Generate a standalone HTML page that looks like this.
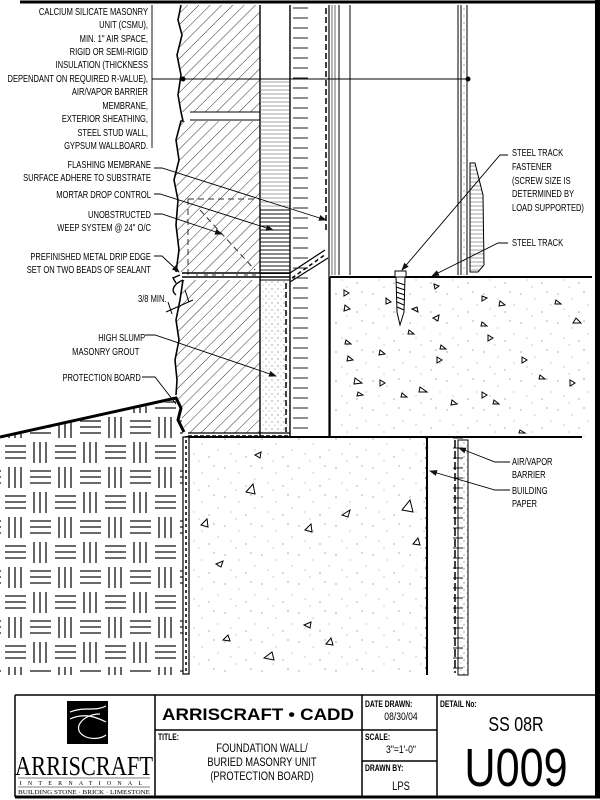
<!DOCTYPE html>
<html><head><meta charset="utf-8"><style>
html,body{margin:0;padding:0;background:#fff;}
svg{display:block;}
.t{font-family:"Liberation Sans",sans-serif;font-size:10.5px;fill:#000;}
</style></head><body>
<svg width="600" height="800" viewBox="0 0 600 800" xmlns="http://www.w3.org/2000/svg">
<defs>
<pattern id="diag" width="8" height="8" patternUnits="userSpaceOnUse" patternTransform="rotate(45)">
<line x1="0" y1="0" x2="0" y2="8" stroke="#333" stroke-width="1"/></pattern>
<pattern id="horiz" width="6" height="4" patternUnits="userSpaceOnUse">
<line x1="0" y1="2" x2="6" y2="2" stroke="#888" stroke-width="0.8"/></pattern>
<pattern id="horizd" width="6" height="4" patternUnits="userSpaceOnUse">
<line x1="0" y1="2" x2="6" y2="2" stroke="#111" stroke-width="1"/></pattern>
<pattern id="stip" width="37" height="29" patternUnits="userSpaceOnUse">
<g fill="#777"><circle cx="3" cy="4" r="0.6"/><circle cx="17" cy="9" r="0.5"/><circle cx="29" cy="2" r="0.6"/><circle cx="9" cy="19" r="0.5"/><circle cx="24" cy="22" r="0.6"/><circle cx="33" cy="15" r="0.5"/><circle cx="14" cy="26" r="0.5"/></g></pattern>
<pattern id="stip2" width="6" height="7" patternUnits="userSpaceOnUse">
<circle cx="2" cy="2" r="0.6" fill="#666"/><circle cx="5" cy="5" r="0.5" fill="#888"/></pattern>
<pattern id="weave" width="50" height="50" patternUnits="userSpaceOnUse" x="3" y="440">
<g stroke="#111" stroke-width="1.3">
<line x1="2" y1="6" x2="23" y2="6"/><line x1="2" y1="12" x2="23" y2="12"/><line x1="2" y1="18" x2="23" y2="18"/>
<line x1="31" y1="2" x2="31" y2="23"/><line x1="37" y1="2" x2="37" y2="23"/><line x1="43" y1="2" x2="43" y2="23"/>
<line x1="6" y1="27" x2="6" y2="48"/><line x1="12" y1="27" x2="12" y2="48"/><line x1="18" y1="27" x2="18" y2="48"/>
<line x1="27" y1="31" x2="48" y2="31"/><line x1="27" y1="37" x2="48" y2="37"/><line x1="27" y1="43" x2="48" y2="43"/>
</g></pattern>
<pattern id="ticks" width="40" height="10" patternUnits="userSpaceOnUse" y="3">
<line x1="13" y1="5" x2="28" y2="5" stroke="#222" stroke-width="1"/></pattern>
<marker id="ar" markerWidth="8" markerHeight="6" refX="7" refY="3" orient="auto" markerUnits="userSpaceOnUse">
<path d="M0,0 L8,3 L0,6 z" fill="#111"/></marker>
</defs>

<line x1="20" y1="2" x2="600" y2="2" stroke="#000" stroke-width="3"/>
<rect x="595" y="0" width="5" height="798" fill="#000"/>

<path d="M181,5 L178,20 L182,35 L177,55 L181,75 L178,95 L181,112 L260,112 L260,5 Z" fill="url(#diag)"/>
<path d="M181,121 L176,140 L179,160 L174,180 L178,200 L176,225 L179,250 L176,272 L260,272 L260,121 Z" fill="url(#diag)"/>
<path d="M181,5 L178,20 L182,35 L177,55 L181,75 L178,95 L181,112 L183,121 L181,121 L176,140 L179,160 L174,180 L178,200 L176,225 L179,250 L176,272" fill="none" stroke="#000" stroke-width="1.6"/>
<line x1="190" y1="112" x2="260" y2="112" stroke="#000" stroke-width="1"/>
<line x1="190" y1="120" x2="260" y2="120" stroke="#000" stroke-width="1"/>
<rect x="188" y="199" width="72" height="76" fill="none" stroke="#333" stroke-dasharray="6,4"/>
<line x1="200" y1="210" x2="255" y2="270" stroke="#333" stroke-dasharray="6,4"/>
<line x1="260" y1="5" x2="260" y2="437" stroke="#000" stroke-width="1.4"/>

<rect x="260" y="79" width="30" height="130" fill="url(#horiz)"/>
<rect x="260" y="210" width="30" height="64" fill="url(#horizd)"/>
<line x1="260" y1="210" x2="290" y2="210" stroke="#000"/>

<line x1="182" y1="273" x2="290" y2="273" stroke="#000" stroke-width="1.4"/>
<line x1="182" y1="277" x2="290" y2="277" stroke="#000" stroke-width="1.4"/>
<line x1="184" y1="275" x2="290" y2="275" stroke="#fff" stroke-width="1" stroke-dasharray="4,4"/>
<path d="M290,273 L325,250 M290,282 L328,258" stroke="#000" stroke-width="1.2"/>
<path d="M292,278 L326,254" stroke="#000" stroke-width="1.5" stroke-dasharray="4,3"/>
<path d="M180,275 L173,278 L176,283 M183,280 C174,284 170,290 176,295" fill="none" stroke="#000" stroke-width="1.4"/>

<path d="M183,280 L180,300 L176,320 L179,340 L175,360 L177,380 L176,395 L180,410 L185,433 L260,433 L260,280 Z" fill="url(#diag)"/>
<path d="M183,280 L180,300 L176,320 L179,340 L175,360 L177,380 L176,395" fill="none" stroke="#000" stroke-width="1.6"/>
<line x1="188" y1="433" x2="290" y2="433" stroke="#000" stroke-width="1.2"/>
<line x1="188" y1="436" x2="290" y2="436" stroke="#000" stroke-width="1.5" stroke-dasharray="4,2"/>

<rect x="261" y="280" width="28" height="152" fill="url(#stip2)"/>
<line x1="286" y1="283" x2="286" y2="432" stroke="#000" stroke-width="1.5" stroke-dasharray="6,3"/>
<line x1="260" y1="280" x2="290" y2="280" stroke="#000"/>

<line x1="290" y1="5" x2="290" y2="437" stroke="#000" stroke-width="1.4"/>
<rect x="290" y="5" width="40" height="430" fill="url(#ticks)"/>
<line x1="326" y1="8" x2="326" y2="230" stroke="#000" stroke-width="1.5" stroke-dasharray="6,3"/>
<line x1="329" y1="5" x2="329" y2="437" stroke="#000" stroke-width="1.2"/>
<line x1="332" y1="5" x2="332" y2="275" stroke="#444" stroke-width="0.8"/>
<line x1="335" y1="5" x2="335" y2="275" stroke="#444" stroke-width="0.8"/>
<line x1="339" y1="5" x2="339" y2="275" stroke="#000" stroke-width="1"/>
<line x1="350" y1="5" x2="350" y2="275" stroke="#000" stroke-width="1"/>
<line x1="458" y1="5" x2="458" y2="275" stroke="#000" stroke-width="1"/>
<line x1="461" y1="5" x2="461" y2="275" stroke="#000" stroke-width="1"/>
<rect x="462" y="5" width="5" height="270" fill="url(#stip2)"/>
<line x1="467" y1="5" x2="467" y2="275" stroke="#000" stroke-width="1"/>

<path d="M470,163 L475,163 L483,195 L484,265 L478,272 L470,272 Z" fill="url(#horiz)" stroke="#000" stroke-width="1"/>

<rect x="330" y="277" width="262" height="160" fill="url(#stip)"/>
<line x1="330" y1="277" x2="592" y2="277" stroke="#000" stroke-width="2"/>
<line x1="330" y1="277" x2="330" y2="437" stroke="#000" stroke-width="1.4"/>
<rect x="395" y="271" width="11" height="6" fill="#fff" stroke="#000"/>
<path d="M396,277 L405,277 L404,312 L400,325 L397,312 Z" fill="#fff" stroke="#000"/>
<path d="M396,282 L405,285 M396,287 L405,290 M396,292 L405,295 M396,297 L405,300 M397,302 L404,305 M397,307 L404,310" stroke="#000"/>

<line x1="185" y1="437" x2="582" y2="437" stroke="#000" stroke-width="2"/>

<rect x="189" y="438" width="238" height="237" fill="url(#stip)"/>
<rect x="183" y="437" width="6" height="237" fill="#fff" stroke="#000" stroke-width="1.2"/>
<line x1="186" y1="440" x2="186" y2="673" stroke="#000" stroke-width="1.5" stroke-dasharray="3,3"/>

<path d="M0,437 L176,400 L181,410 L183,437 L183,675 L0,675 Z" fill="url(#weave)"/>
<path d="M0,437 L176,398 L181,408 L178,420 L184,432" fill="none" stroke="#000" stroke-width="3"/>

<rect x="425" y="438" width="38" height="236" fill="url(#ticks)"/>
<line x1="427" y1="437" x2="427" y2="675" stroke="#000" stroke-width="2"/>
<line x1="429" y1="440" x2="429" y2="673" stroke="#fff" stroke-width="1" stroke-dasharray="3,6"/>
<line x1="455" y1="440" x2="455" y2="673" stroke="#000" stroke-width="1.5" stroke-dasharray="8,3"/>
<line x1="458" y1="440" x2="458" y2="675" stroke="#000" stroke-width="1"/>
<rect x="459" y="440" width="9" height="235" fill="url(#stip2)"/>
<rect x="458" y="440" width="10" height="235" fill="none" stroke="#000" stroke-width="1"/>

<g fill="none" stroke="#000" stroke-width="1">
<path d="M344,290 l5,3 l-5,3z"/><path d="M345,305 l5,4 l-6,2z"/><path d="M386,298 l5,4 l-5,2z"/><path d="M412,309 l5,-2 l1,5z"/><path d="M409,330 l5,4 l-6,0z"/>
<path d="M434,284 l5,2 l-4,3z"/><path d="M433,318 l6,-3 l-1,6z"/><path d="M482,296 l5,2 l-5,3z"/><path d="M500,301 l5,4 l-6,1z"/><path d="M482,322 l5,4 l-6,0z"/>
<path d="M556,300 l5,4 l-6,0z"/><path d="M576,318 l5,5 l-8,0z"/><path d="M346,340 l5,4 l-6,0z"/><path d="M348,356 l5,4 l-6,1z"/><path d="M380,350 l5,4 l-6,1z"/>
<path d="M441,345 l5,4 l-6,0z"/><path d="M437,357 l5,3 l-5,3z"/><path d="M355,378 l7,5 l-8,1z"/><path d="M358,392 l5,3 l-6,1z"/><path d="M380,380 l5,3 l-5,3z"/>
<path d="M402,393 l5,4 l-6,0z"/><path d="M420,387 l7,5 l-8,0z"/><path d="M452,400 l5,4 l-6,1z"/><path d="M482,392 l5,3 l-5,3z"/><path d="M494,400 l5,4 l-6,0z"/>
<path d="M522,357 l5,3 l-5,3z"/><path d="M540,375 l5,4 l-6,0z"/><path d="M570,380 l5,3 l-5,3z"/><path d="M488,335 l5,3 l-5,3z"/><path d="M520,430 l5,3 l-6,0z"/>
<path d="M255,455 l6,-3 l-1,6z"/><path d="M246,492 l7,-8 l2,10z"/><path d="M201,525 l6,-6 l1,8z"/><path d="M216,564 l7,-3 l-2,6z"/><path d="M223,640 l5,-5 l2,6z"/>
<path d="M264,658 l8,-6 l2,8z"/><path d="M342,515 l8,-5 l-2,7z"/><path d="M305,530 l6,-6 l1,8z"/><path d="M402,510 l8,-10 l3,12z"/><path d="M413,544 l5,-6 l2,7z"/>
<path d="M304,625 l7,-3 l-1,6z"/><path d="M326,644 l5,-6 l2,7z"/>
</g>

<line x1="152" y1="79" x2="468" y2="79" stroke="#000" stroke-width="0.9"/>
<line x1="152" y1="5" x2="152" y2="148" stroke="#000" stroke-width="0.9"/>
<circle cx="183" cy="79" r="2.5" fill="#000"/>
<circle cx="468" cy="79" r="2.5" fill="#000"/>

<path d="M166,312 L193,300 M168,302 L172,314 M185,290 L189,302" stroke="#000" stroke-width="1"/>

<g fill="none" stroke="#000" stroke-width="0.9">
<path d="M154,168 L162,168 L326,220" marker-end="url(#ar)"/>
<path d="M154,194 L160,194 L273,230" marker-end="url(#ar)"/>
<path d="M154,214 L162,214 L222,234" marker-end="url(#ar)"/>
<path d="M154,256 L162,256 L179,272" marker-end="url(#ar)"/>
<path d="M145,335 L155,335 L276,376" marker-end="url(#ar)"/>
<path d="M142,377 L155,377 L176,404"/>
<path d="M508,155 L500,155 L402,270" marker-end="url(#ar)"/>
<path d="M508,243 L498,243 L432,276" marker-end="url(#ar)"/>
<path d="M510,462 L495,462 L459,448" marker-end="url(#ar)"/>
<path d="M510,490 L495,490 L430,471" marker-end="url(#ar)"/>
</g>

<g class="t" transform="translate(148,0) scale(0.72,1)" text-anchor="end">
<text x="0" y="15">CALCIUM SILICATE MASONRY</text>
<text x="0" y="28">UNIT (CSMU),</text>
<text x="0" y="42">MIN. 1" AIR SPACE,</text>
<text x="0" y="55">RIGID OR SEMI-RIGID</text>
<text x="0" y="68">INSULATION (THICKNESS</text>
<text x="0" y="82">DEPENDANT ON REQUIRED R-VALUE),</text>
<text x="0" y="95">AIR/VAPOR BARRIER</text>
<text x="0" y="109">MEMBRANE,</text>
<text x="0" y="122">EXTERIOR SHEATHING,</text>
<text x="0" y="136">STEEL STUD WALL,</text>
<text x="0" y="149">GYPSUM WALLBOARD.</text>
<text x="4" y="168">FLASHING MEMBRANE</text>
<text x="4" y="181">SURFACE ADHERE TO SUBSTRATE</text>
<text x="4" y="198">MORTAR DROP CONTROL</text>
<text x="4" y="218">UNOBSTRUCTED</text>
<text x="4" y="231">WEEP SYSTEM @ 24" O/C</text>
<text x="4" y="260">PREFINISHED METAL DRIP EDGE</text>
<text x="4" y="273">SET ON TWO BEADS OF SEALANT</text>
<text x="-4" y="341">HIGH SLUMP</text>
<text x="-12" y="355">MASONRY GROUT</text>
<text x="-10" y="381">PROTECTION BOARD</text>
</g>
<g class="t" transform="translate(138,0) scale(0.72,1)"><text x="0" y="302">3/8 MIN.</text></g>

<g class="t" transform="translate(512,0) scale(0.72,1)">
<text x="0" y="156">STEEL TRACK</text>
<text x="0" y="170">FASTENER</text>
<text x="0" y="184">(SCREW SIZE IS</text>
<text x="0" y="197">DETERMINED BY</text>
<text x="0" y="211">LOAD SUPPORTED)</text>
<text x="0" y="246">STEEL TRACK</text>
<text x="0" y="465">AIR/VAPOR</text>
<text x="0" y="478">BARRIER</text>
<text x="0" y="494">BUILDING</text>
<text x="0" y="507">PAPER</text>
</g>

<g stroke="#000" fill="none">
<line x1="15" y1="695" x2="600" y2="695" stroke-width="1.5"/>
<line x1="15" y1="695" x2="15" y2="797" stroke-width="1.5"/>
<line x1="15" y1="797" x2="600" y2="797" stroke-width="3"/>
<line x1="155" y1="695" x2="155" y2="797" stroke-width="1.5"/>
<line x1="362" y1="695" x2="362" y2="797" stroke-width="1.5"/>
<line x1="437" y1="695" x2="437" y2="797" stroke-width="1.5"/>
<line x1="155" y1="730" x2="437" y2="730" stroke-width="1.5"/>
<line x1="362" y1="761" x2="437" y2="761" stroke-width="1.5"/>
</g>
<rect x="67" y="701" width="41" height="43" fill="#000"/>
<g fill="none" stroke="#fff" stroke-width="1.2">
<path d="M70,712 C85,706 95,712 106,706"/>
<path d="M70,719 C85,712 98,718 106,722"/>
<path d="M100,714 C82,714 70,730 86,737 C94,740 102,738 106,735"/>
</g>
<text x="84" y="775" text-anchor="middle" font-family="Liberation Serif,serif" font-size="27" textLength="138" lengthAdjust="spacingAndGlyphs">ARRISCRAFT</text>
<line x1="18" y1="778" x2="150" y2="778" stroke="#000" stroke-width="0.6"/>
<text x="84" y="785" text-anchor="middle" font-family="Liberation Serif,serif" font-size="6" letter-spacing="6.2">INTERNATIONAL</text>
<line x1="18" y1="787" x2="150" y2="787" stroke="#000" stroke-width="0.6"/>
<text x="84" y="794" text-anchor="middle" font-family="Liberation Serif,serif" font-size="6.5" textLength="132" lengthAdjust="spacingAndGlyphs">BUILDING STONE · BRICK · LIMESTONE</text>

<text x="258" y="720" text-anchor="middle" font-family="Liberation Sans,sans-serif" font-weight="bold" font-size="17" textLength="192" lengthAdjust="spacingAndGlyphs">ARRISCRAFT • CADD</text>
<g class="t" font-size="10">
<g transform="translate(158,740) scale(0.75,1)"><text x="0" y="0" font-size="9" font-weight="bold">TITLE:</text></g>
<g transform="translate(365,707) scale(0.75,1)"><text x="0" y="0" font-size="9" font-weight="bold">DATE DRAWN:</text></g>
<g transform="translate(365,740) scale(0.75,1)"><text x="0" y="0" font-size="9" font-weight="bold">SCALE:</text></g>
<g transform="translate(365,771) scale(0.75,1)"><text x="0" y="0" font-size="9" font-weight="bold">DRAWN BY:</text></g>
<g transform="translate(440,707) scale(0.75,1)"><text x="0" y="0" font-size="9" font-weight="bold">DETAIL No:</text></g>
</g>
<g class="t" text-anchor="middle">
<g transform="translate(262,0) scale(0.78,1)">
<text x="0" y="752" font-size="12">FOUNDATION WALL/</text>
<text x="0" y="766" font-size="12">BURIED MASONRY UNIT</text>
<text x="0" y="780" font-size="12">(PROTECTION BOARD)</text>
</g>
<g transform="translate(401,0) scale(0.78,1)">
<text x="0" y="720" font-size="11">08/30/04</text>
<text x="0" y="753" font-size="11">3"=1'-0"</text>
<text x="0" y="790" font-size="12">LPS</text>
</g>
<g transform="translate(516,0) scale(0.8,1)">
<text x="0" y="731" font-size="20">SS 08R</text>
<text x="0" y="786" font-size="54">U009</text>
</g>
</g>
</svg>
</body></html>
